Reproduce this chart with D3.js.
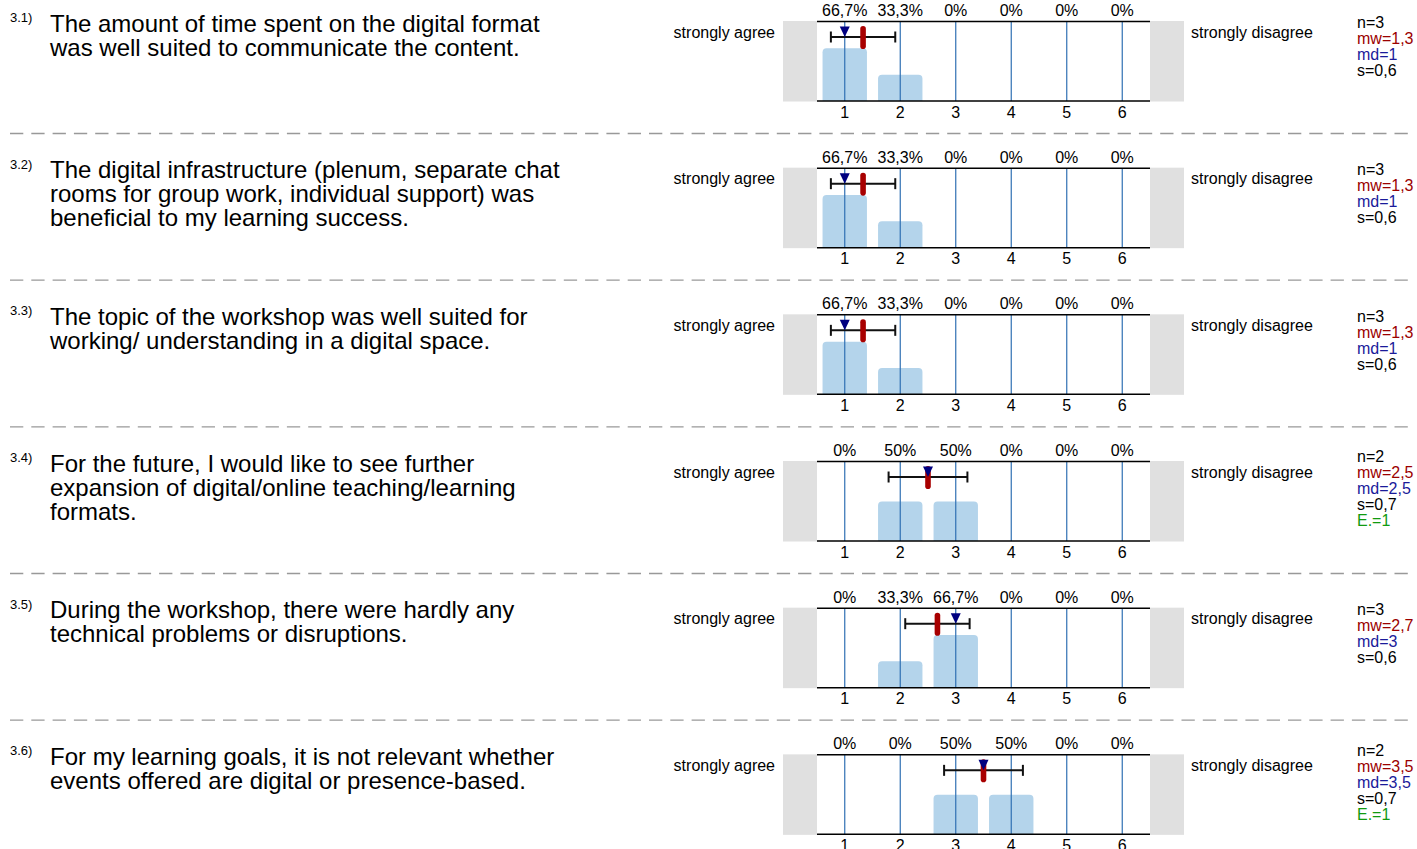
<!DOCTYPE html>
<html><head><meta charset="utf-8">
<script src="https://cdn.jsdelivr.net/npm/d3@7"></script>
<style>
html,body{margin:0;padding:0;background:#fff;}
svg{display:block;font-family:"Liberation Sans",Arial,Helvetica,sans-serif;}
</style></head>
<body>
<svg id="chart" width="1417" height="849"></svg>
<script>
// ---- data ----
const numbers = ["3.1)", "3.2)", "3.3)", "3.4)", "3.5)", "3.6)"];
const questions = [
  ["The amount of time spent on the digital format", "was well suited to communicate the content."],
  ["The digital infrastructure (plenum, separate chat", "rooms for group work, individual support) was", "beneficial to my learning success."],
  ["The topic of the workshop was well suited for", "working/ understanding in a digital space."],
  ["For the future, I would like to see further", "expansion of digital/online teaching/learning", "formats."],
  ["During the workshop, there were hardly any", "technical problems or disruptions."],
  ["For my learning goals, it is not relevant whether", "events offered are digital or presence-based."]
];
const categories = [1, 2, 3, 4, 5, 6];
const percents = [
  [66.7, 33.3, 0, 0, 0, 0],
  [66.7, 33.3, 0, 0, 0, 0],
  [66.7, 33.3, 0, 0, 0, 0],
  [0, 50, 50, 0, 0, 0],
  [0, 33.3, 66.7, 0, 0, 0],
  [0, 0, 50, 50, 0, 0]
];
const nValues = [3, 3, 3, 2, 3, 2];
const means = [1.33, 1.33, 1.33, 2.5, 2.67, 3.5];
const medians = [1, 1, 1, 2.5, 3, 3.5];
const sds = [0.58, 0.58, 0.58, 0.71, 0.58, 0.71];
const abstentions = [null, null, null, 1, null, 1];
const leftLabel = "strongly agree";
const rightLabel = "strongly disagree";

// ---- layout ----
const svg = d3.select("#chart");
const rowH = 146.67;
const plotL = 817, plotR = 1150;
const x = d3.scaleLinear().domain([0.5, 6.5]).range([plotL, plotR]);
const step = x(2) - x(1);
const barW = step * 0.8;
const fmt = v => (Math.round(v * 10) / 10).toString().replace(".", ",");
const pctFmt = v => (Number.isInteger(v) ? v : fmt(v)) + "%";

questions.forEach((lines, i) => {
  const o = i * rowH;
  const g = svg.append("g").attr("transform", `translate(0,${o})`);
  const top = 21.5, bot = 101;
  const y = d3.scaleLinear().domain([0, 100]).range([bot, top + 0.5]);

  // question number
  g.append("text").attr("x", 10).attr("y", 22).attr("font-size", 13).attr("fill", "#000").text(numbers[i]);
  // question text
  g.append("text").attr("font-size", 24).attr("fill", "#000")
    .selectAll("tspan").data(lines).join("tspan")
    .attr("x", 50).attr("y", (d, k) => 31.5 + k * 24).text(d => d);

  // side labels
  g.append("text").attr("x", 775).attr("y", 37.5).attr("text-anchor", "end").attr("font-size", 16).text(leftLabel);
  g.append("text").attr("x", 1191).attr("y", 37.5).attr("font-size", 16).text(rightLabel);

  // gray side boxes
  g.append("rect").attr("x", 783).attr("y", top - 0.5).attr("width", plotL - 783).attr("height", bot - top + 1).attr("fill", "#e0e0e0");
  g.append("rect").attr("x", plotR).attr("y", top - 0.5).attr("width", 1184 - plotR).attr("height", bot - top + 1).attr("fill", "#e0e0e0");

  // bars with rounded tops
  const r = 4;
  g.append("g").selectAll("path").data(categories.map((c, k) => ({c, p: percents[i][k]})).filter(d => d.p > 0))
    .join("path")
    .attr("fill", "#b4d4eb")
    .attr("d", d => {
      const x0 = x(d.c) - barW / 2, x1 = x(d.c) + barW / 2, y0 = y(d.p), y1 = bot;
      return `M${x0},${y1}V${y0 + r}Q${x0},${y0} ${x0 + r},${y0}H${x1 - r}Q${x1},${y0} ${x1},${y0 + r}V${y1}Z`;
    });

  // vertical category lines
  g.append("g").selectAll("line").data(categories).join("line")
    .attr("x1", d => x(d)).attr("x2", d => x(d)).attr("y1", top).attr("y2", bot)
    .attr("stroke", "#2f6fb3").attr("stroke-width", 1.2);

  // top & bottom lines
  [top, bot].forEach(yy => g.append("line").attr("x1", plotL).attr("x2", plotR).attr("y1", yy).attr("y2", yy)
    .attr("stroke", "#000").attr("stroke-width", 1.5));

  // percent labels
  g.append("g").selectAll("text").data(categories).join("text")
    .attr("x", d => x(d)).attr("y", 16).attr("text-anchor", "middle").attr("font-size", 16)
    .text((d, k) => pctFmt(percents[i][k]));

  // tick labels
  g.append("g").selectAll("text").data(categories).join("text")
    .attr("x", d => x(d)).attr("y", 117.5).attr("text-anchor", "middle").attr("font-size", 16)
    .text(d => d);

  // error bar (mean ± sd)
  const ey = 37;
  const eL = x(means[i] - sds[i]), eR = x(means[i] + sds[i]);
  g.append("line").attr("x1", eL).attr("x2", eR).attr("y1", ey).attr("y2", ey).attr("stroke", "#111").attr("stroke-width", 2);
  [eL, eR].forEach(xx => g.append("line").attr("x1", xx).attr("x2", xx).attr("y1", ey - 5.5).attr("y2", ey + 5.5)
    .attr("stroke", "#111").attr("stroke-width", 2));

  // mean marker
  g.append("rect").attr("x", x(means[i]) - 2.8).attr("y", 26).attr("width", 5.6).attr("height", 23)
    .attr("rx", 2.8).attr("fill", "#a80000");

  // median triangle
  const mx = x(medians[i]);
  g.append("path").attr("d", `M${mx - 5},26.5L${mx + 5},26.5L${mx},37Z`).attr("fill", "#000080");

  // stats
  const stats = [
    {t: "n=" + nValues[i], c: "#000"},
    {t: "mw=" + fmt(means[i]), c: "#9b0000"},
    {t: "md=" + fmt(medians[i]), c: "#1a1a9a"},
    {t: "s=" + fmt(sds[i]), c: "#000"}
  ];
  if (abstentions[i] != null) stats.push({t: "E.=" + abstentions[i], c: "#109a10"});
  const startC = stats.length === 5 ? 16.5 : 22.5;
  g.append("g").selectAll("text").data(stats).join("text")
    .attr("x", 1357).attr("y", (d, k) => startC + 5.7 + k * 16).attr("font-size", 16)
    .attr("fill", d => d.c).text(d => d.t);

  // separator
  if (i < questions.length - 1) {
    g.append("line").attr("x1", 10).attr("x2", 1412).attr("y1", 133.5).attr("y2", 133.5)
      .attr("stroke", "#999").attr("stroke-width", 1.3).attr("stroke-dasharray", "13.3,8");
  }
});
</script>
</body></html>
